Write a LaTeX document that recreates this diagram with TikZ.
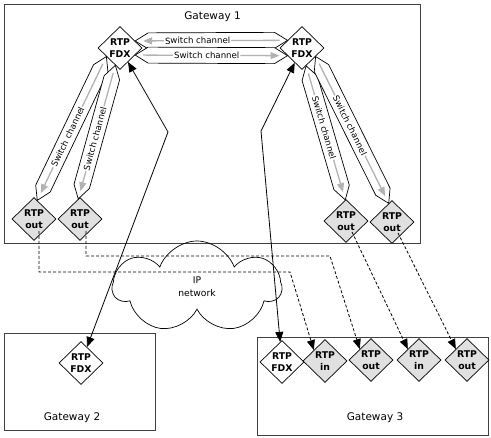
\documentclass[tikz,border=0pt]{standalone}
\usepackage{fontspec}
\setmainfont{DejaVu Sans}
\usetikzlibrary{shapes.geometric,shapes.symbols,arrows.meta,calc,positioning}

\tikzset{
  gwbox/.style={draw=black!75, line width=1.1pt, inner sep=0pt},
  gwlabel/.style={font=\fontsize{10.5}{12}\selectfont},
  rtp/.style={diamond, draw, line width=0.7pt, aspect=1, inner sep=0pt,
    minimum width=44pt, minimum height=43pt, align=center,
    font=\fontsize{9.3}{12}\selectfont\bfseries},
  fdx/.style={rtp, fill=white},
  rtpio/.style={rtp, fill=black!12},
  chanline/.style={draw, fill=white, line width=0.7pt},
  chanarrow/.style={draw=black!30, line width=1.3pt, >={Triangle[length=9pt,width=7pt]}},
  chantext/.style={fill=white, inner sep=1pt, font=\fontsize{8.6}{10}\selectfont},
  link/.style={line width=0.8pt, {Triangle[length=10pt,width=8pt]}-{Triangle[length=10pt,width=8pt]}},
  sig/.style={line width=0.8pt, dash pattern=on 3pt off 2pt, -{Triangle[length=10pt,width=8pt]}}
}

% switch channel between two border points
\newcommand{\swchan}[4]{%
  \draw[chanline] (#1) -- ($(#1)!13pt!(#2)!8pt!90:(#2)$) -- ($(#2)!13pt!(#1)!8pt!-90:(#1)$)
    -- (#2) -- ($(#2)!13pt!(#1)!8pt!90:(#1)$) -- ($(#1)!13pt!(#2)!8pt!-90:(#2)$) -- cycle;
  \draw[chanarrow, #3] ($(#1)!8pt!(#2)$) -- ($(#2)!8pt!(#1)$);
  \path (#1) -- (#2) node[pos=#4, sloped, chantext] {Switch channel};
}

\begin{document}
\begin{tikzpicture}[x=1pt, y=-1pt]
  \useasboundingbox (0,0) rectangle (491,438);

  % gateways
  \node[gwbox, anchor=north west, minimum width=416pt, minimum height=239pt] (gw1) at (4,4) {};
  \node[gwbox, anchor=north west, minimum width=151pt, minimum height=97pt] (gw2) at (4,333) {};
  \node[gwbox, anchor=north west, minimum width=231pt, minimum height=98pt] (gw3) at (257,337) {};
  \node[gwlabel, below=4pt] at (gw1.north) {Gateway 1};
  \node[gwlabel, above=5pt] at ($(gw2.south)+(-8,0)$) {Gateway 2};
  \node[gwlabel, above=10pt] at ($(gw3.south)+(2,0)$) {Gateway 3};

  \node[cloud, draw, line width=0.7pt, cloud puffs=7, cloud puff arc=140, aspect=1.8,
    minimum width=168pt, minimum height=92pt, align=center,
    font=\fontsize{9.2}{13}\selectfont] (ipnet) at (197,287) {IP\\network};

  % RTP endpoints
  \node[fdx] (fA) at (120,48) {RTP\\FDX};
  \node[fdx] (fB) at (302,48) {RTP\\FDX};
  \node[rtpio] (oA) at (34,219) {RTP\\out};
  \node[rtpio] (oB) at (80,219) {RTP\\out};
  \node[rtpio] (oC) at (346,221) {RTP\\out};
  \node[rtpio] (oD) at (392,222) {RTP\\out};
  \node[fdx] (gB) at (81,363) {RTP\\FDX};
  \node[fdx] (gC) at (282,362) {RTP\\FDX};
  \node[rtpio] (iA) at (325,361) {RTP\\in};
  \node[rtpio] (iB) at (371,360) {RTP\\out};
  \node[rtpio] (iC) at (419,360) {RTP\\in};
  \node[rtpio] (iD) at (467,360) {RTP\\out};

  % switch channels
  \swchan{fA.25}{fB.152}{<-}{0.41}
  \swchan{fA.-25}{fB.-152}{->}{0.47}
  \swchan{fA.212}{oA.80}{->}{0.56}
  \swchan{fA.255}{oB.95}{->}{0.55}
  \swchan{fB.-77}{oC.92}{->}{0.46}
  \swchan{fB.-32}{oD.100}{->}{0.47}

  % FDX links over the IP network
  \coordinate (kA) at (168,132);
  \coordinate (kB) at (261,131);
  \draw[link] (fA) -- (kA) -- (gB);
  \draw[link] (fB) -- (kB) -- (gC);

  % media streams
  \coordinate (dA) at (290,272);
  \coordinate (dB) at (330,256);
  \draw[sig] ($(oA)+(5,12)$) |- (dA) -- (iA.north west);
  \draw[sig] ($(oB)+(6,12)$) |- (dB) -- (iB.north west);
  \draw[sig] ($(oC)+(6,11)$) -- (iC.north west);
  \draw[sig] ($(oD)+(6,11)$) -- (iD.north west);
\end{tikzpicture}
\end{document}
